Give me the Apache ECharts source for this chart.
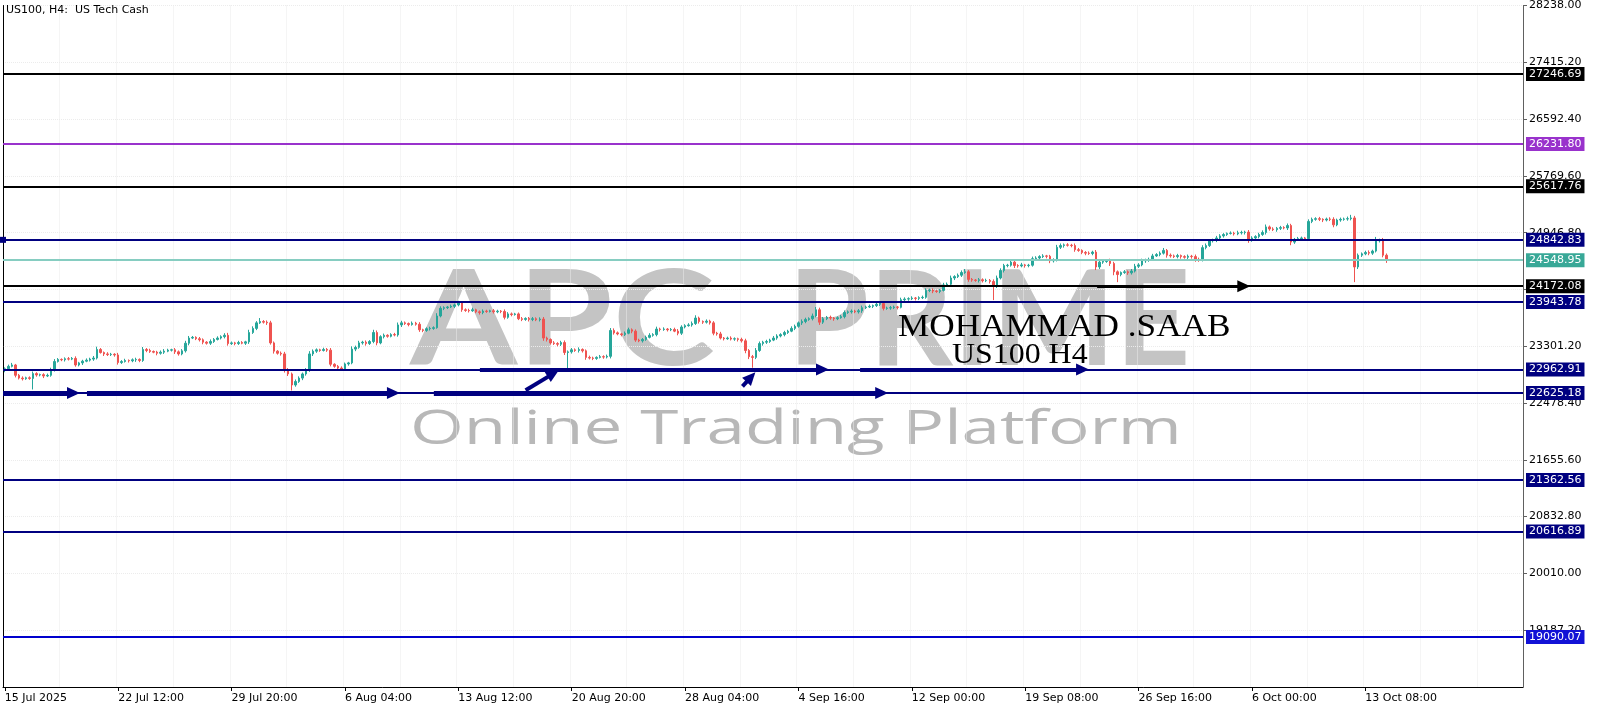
<!DOCTYPE html>
<html><head><meta charset="utf-8">
<script src="https://cdn.jsdelivr.net/npm/echarts@6/dist/echarts.min.js"></script>
<style>html,body{margin:0;padding:0;background:#fff}#c{width:1600px;height:711px}</style>
</head><body><div id="c"></div>
<script>
// ---------- DATA ----------
const tickLabels = ['15 Jul 2025','22 Jul 12:00','29 Jul 20:00','6 Aug 04:00','13 Aug 12:00','20 Aug 20:00','28 Aug 04:00','4 Sep 16:00','12 Sep 00:00','19 Sep 08:00','26 Sep 16:00','6 Oct 00:00','13 Oct 08:00'];
const barsPerLabel = 32;
const slotCount = 429;
const priceTicks = [28238.00,27415.20,26592.40,25769.60,24946.80,24124.00,23301.20,22478.40,21655.60,20832.80,20010.00,19187.20];
const priceMin = 18364.4, priceMax = 28238.0;
const firstOpen = 22950;
const closes = [
22975,23010,23030,22880,22840,22830,22845,22835,22905,22885,
22890,22870,22880,22960,23080,23110,23105,23120,23115,23125,
23030,23060,23085,23100,23115,23130,23255,23210,23190,23180,
23185,23175,23065,23080,23095,23090,23105,23110,23095,23255,
23240,23225,23215,23200,23215,23230,23245,23250,23220,23190,
23235,23345,23420,23430,23410,23395,23360,23345,23370,23400,
23420,23440,23460,23340,23350,23340,23355,23345,23365,23500,
23560,23640,23660,23650,23640,23350,23230,23200,23190,22960,
22900,22740,22790,22840,22900,22950,23190,23230,23250,23240,
23255,23245,23040,23010,22985,22970,23045,23060,23260,23285,
23350,23360,23340,23370,23500,23350,23440,23460,23445,23470,
23465,23610,23640,23630,23615,23635,23620,23540,23530,23555,
23560,23570,23740,23850,23860,23870,23880,23900,23930,23830,
23820,23815,23830,23800,23790,23810,23805,23815,23800,23810,
23805,23720,23770,23760,23770,23700,23690,23705,23690,23700,
23685,23695,23420,23400,23350,23340,23330,23355,23210,23220,
23250,23240,23255,23235,23140,23130,23125,23140,23150,23145,
23155,23530,23495,23480,23470,23490,23540,23520,23390,23380,
23400,23430,23460,23470,23550,23545,23550,23540,23545,23520,
23490,23580,23600,23610,23630,23710,23660,23650,23665,23640,
23490,23480,23420,23410,23420,23405,23410,23400,23380,23240,
23150,23140,23240,23340,23360,23370,23390,23420,23450,23470,
23500,23520,23560,23590,23640,23660,23690,23700,23740,23830,
23650,23700,23720,23710,23700,23715,23730,23790,23800,23810,
23800,23815,23860,23870,23880,23890,23910,23920,23850,23855,
23860,23870,23865,23975,23985,23990,24000,23995,24005,24010,
24110,24115,24100,24095,24110,24190,24200,24290,24310,24330,
24370,24380,24270,24260,24255,24265,24250,24255,24240,24170,
24290,24400,24470,24475,24520,24470,24465,24480,24470,24475,
24570,24580,24600,24610,24605,24540,24550,24735,24760,24770,
24765,24760,24700,24690,24660,24650,24645,24665,24450,24520,
24530,24540,24500,24380,24340,24370,24380,24365,24390,24460,
24480,24540,24550,24560,24610,24630,24650,24690,24620,24610,
24600,24615,24600,24590,24605,24600,24560,24550,24730,24760,
24830,24840,24870,24900,24920,24935,24940,24930,24945,24950,
24955,24840,24870,24890,24920,24950,25030,25000,24990,25010,
25020,25015,25050,24810,24850,24860,24870,24860,25110,25140,
25150,25140,25130,25145,25140,25060,25130,25140,25145,25150,
25160,24450,24620,24640,24660,24650,24680,24830,24840,24620,24549
];
const wickUp = [
20,25,30,15,20,25,15,20,30,20, 15,20,25,30,35,20,15,20,25,20,
30,15,20,25,20,30,40,20,15,25, 20,15,30,20,25,15,20,25,15,35,
20,25,15,20,25,30,20,15,25,20, 25,35,30,20,15,25,20,15,30,20,
25,20,30,35,20,15,25,20,15,40, 30,25,50,20,25,30,20,15,25,30,
25,20,30,25,20,35,40,25,20,15, 25,20,30,15,20,25,20,15,40,25,
30,20,25,20,40,30,20,25,15,20, 25,35,30,20,15,25,20,30,15,20,
25,20,40,30,20,15,25,20,30,25, 20,25,30,15,20,25,20,15,25,20,
15,30,25,20,15,20,25,15,20,25, 20,25,30,20,15,25,20,25,30,20,
25,20,30,15,20,25,20,15,25,20, 25,35,30,20,15,25,30,20,25,20,
20,25,30,20,35,20,25,15,20,25, 30,25,20,25,30,40,20,15,25,20,
25,20,30,15,20,25,20,15,25,30, 20,25,35,30,20,25,20,30,25,20,
25,20,30,25,20,30,25,20,35,40, 30,25,20,25,15,20,25,30,20,25,
20,25,30,20,25,15,20,30,25,20, 25,20,15,30,25,20,25,15,20,25,
30,20,25,15,20,30,25,35,20,25, 30,40,25,20,15,25,20,25,20,30,
35,30,25,20,40,25,20,30,15,20, 30,25,20,25,15,20,25,35,30,20,
25,20,30,25,15,20,25,20,30,25, 20,25,30,25,20,15,25,20,30,35,
25,30,20,25,30,20,25,35,20,25, 20,25,15,20,25,20,30,25,35,30,
25,20,30,25,20,15,25,20,30,25, 20,30,25,20,25,30,35,20,25,20,
25,20,30,25,20,25,20,15,30,25, 20,25,15,20,25,30,20,25,20,30,
45,30,25,20,25,30,20,55,20,30,25
];
const wickDn = [
25,20,15,30,20,25,15,20,160,25, 20,30,15,20,25,15,20,25,20,15,
25,20,30,15,20,25,20,15,30,20, 20,25,30,20,15,25,20,30,25,20,
25,20,15,30,20,25,15,20,30,25, 20,25,30,15,20,25,30,20,25,20,
15,20,25,30,20,25,20,15,25,30, 20,25,15,20,30,25,35,20,25,40,
30,80,25,20,30,25,20,30,25,20, 15,25,30,20,25,20,15,25,20,30,
20,25,30,20,25,35,20,25,20,15, 20,25,30,20,25,15,20,30,25,20,
25,20,15,20,25,20,15,25,20,30, 20,25,15,20,30,25,20,15,25,20,
25,30,20,25,15,20,25,20,30,25, 20,25,40,30,25,20,30,25,35,230,
25,20,30,25,35,20,25,20,15,25, 20,30,25,20,25,20,15,30,25,20,
25,20,15,20,25,30,20,25,20,15, 30,25,20,15,25,20,30,25,20,25,
30,25,20,25,15,20,25,30,25,40, 35,150,25,20,30,25,20,15,25,20,
25,20,15,25,20,30,25,20,25,20, 40,25,20,25,30,20,15,25,20,25,
20,25,30,20,15,25,20,25,30,20, 25,20,30,15,20,25,20,30,25,20,
20,25,30,20,25,15,20,25,30,20, 25,20,35,25,20,30,25,20,30,200,
25,20,30,25,20,35,25,20,30,25, 20,25,15,20,30,35,25,20,25,30,
20,25,30,20,25,30,20,25,45,30, 25,20,35,50,110,25,20,30,25,20,
25,20,30,25,20,15,25,20,35,25, 20,25,30,20,25,30,35,25,20,25,
20,25,30,20,25,20,15,25,20,25, 30,40,25,20,25,20,30,25,20,30,
25,20,30,45,25,20,30,25,20,25, 20,25,30,20,25,35,20,25,20,25,
25,220,30,25,20,30,25,20,25,30,40
];
const levels = [27246.69, 26231.80, 25617.76, 24842.83, 24548.95, 24172.08, 23943.78, 22962.91, 22625.18, 21362.56, 20616.89, 19090.07];
// arrows: [fromBar, fromPrice, toBar, toPrice]
const arrows = [
  [-0.5, 22625.18, 19.4, 22625.18],
  [23.2, 22625.18, 109.7, 22625.18],
  [121.1, 22625.18, 247.5, 22625.18],
  [134.1, 22962.91, 230.8, 22962.91],
  [241.4, 22962.91, 304.2, 22962.91],
  [147.0, 22663, 154.8, 22905],
  [208.2, 22721, 210.6, 22854],
  [308.3, 24172.08, 349.7, 24172.08]
];

// ---------- STYLES ----------
const FONT = 'DejaVu Sans';
const levelStyle = [
  {line:'#000000', bg:'#000000'},
  {line:'#9932cc', bg:'#9932cc'},
  {line:'#000000', bg:'#000000'},
  {line:'#000080', bg:'#000080', marker:true},
  {line:'#86cdc1', bg:'#38a897'},
  {line:'#000000', bg:'#000000'},
  {line:'#000080', bg:'#000080'},
  {line:'#000080', bg:'#000080'},
  {line:'#000080', bg:'#000080'},
  {line:'#000080', bg:'#000080'},
  {line:'#000080', bg:'#000080'},
  {line:'#0000cd', bg:'#1212d6'}
];
const arrowStyle = [
  {c:'#000080', w:5},{c:'#000080', w:5},{c:'#000080', w:5},
  {c:'#000080', w:4},{c:'#000080', w:4},
  {c:'#000080', w:4},{c:'#000080', w:4},
  {c:'#000000', w:3}
];

// ---------- BUILD ----------
const categories = Array.from({length: slotCount}, (_, i) => String(i));
const candles = closes.map((c, i) => {
  const o = i ? closes[i - 1] : firstOpen;
  return [o, c, Math.min(o, c) - wickDn[i], Math.max(o, c) + wickUp[i]];
});
const isLabelIdx = (i) => i % barsPerLabel === 0 && i / barsPerLabel < tickLabels.length;

const chart = echarts.init(document.getElementById('c'), null, {renderer: 'canvas'});
chart.setOption({
  animation: false,
  backgroundColor: '#ffffff',
  grid: {left: 3, right: 77, top: 3, bottom: 24},
  xAxis: [{
    type: 'category', data: categories, boundaryGap: true,
    axisLine: {show: true, onZero: false, lineStyle: {color: '#000', width: 1}},
    axisTick: {show: true, alignWithLabel: true, length: 4, interval: (i) => isLabelIdx(i), lineStyle: {color: '#000'}},
    axisLabel: {interval: (i) => isLabelIdx(i), formatter: (v, i) => tickLabels[i / barsPerLabel] || '', align: 'left', margin: 6, color: '#000', fontFamily: FONT, fontSize: 11},
    splitLine: {show: true, interval: (i) => i % 16 === 0, lineStyle: {color: '#ececec', type: 'dotted', width: 1}}
  }, {
    type: 'value', min: -0.5, max: slotCount - 0.5, show: false, axisLine: {onZero: false}
  }],
  yAxis: [{
    type: 'value', position: 'right', min: priceMin, max: priceMax,
    axisLine: {show: true, onZero: false, lineStyle: {color: '#606060', width: 1}},
    axisTick: {show: true, length: 4, customValues: priceTicks, lineStyle: {color: '#606060'}},
    axisLabel: {customValues: priceTicks, formatter: (v) => Number(v).toFixed(2), margin: 6, color: '#000', fontFamily: FONT, fontSize: 11},
    splitLine: {show: true, lineStyle: {color: '#ececec', type: 'dotted', width: 1}}
  }, {
    type: 'value', position: 'left', min: priceMin, max: priceMax,
    axisLine: {show: true, onZero: false, lineStyle: {color: '#000', width: 1}},
    axisTick: {show: false}, axisLabel: {show: false}, splitLine: {show: false}
  }],
  series: [{
    type: 'candlestick', data: candles, barWidth: 2, z: 3,
    itemStyle: {color: '#26a69a', color0: '#ef5350', borderColor: '#26a69a', borderColor0: '#ef5350', borderWidth: 1},
    markLine: {
      silent: true, animation: false, symbol: 'none',
      data: levels.map((v, k) => ({
        yAxis: v,
        symbol: levelStyle[k].marker ? ['rect', 'rect'] : 'none',
        symbolSize: 6,
        lineStyle: {color: levelStyle[k].line, width: 2, type: 'solid'},
        label: {show: true, position: 'end', formatter: v.toFixed(2), color: '#fff', backgroundColor: levelStyle[k].bg,
                padding: [2, 3, 1, 3], fontFamily: FONT, fontSize: 11, distance: 3}
      }))
    }
  }, {
    type: 'line', xAxisIndex: 1, yAxisIndex: 0, data: [], z: 4,
    markLine: {
      silent: true, animation: false, symbol: ['none', 'triangle'], symbolSize: [12, 13],
      label: {show: false},
      data: arrows.map((a, k) => [
        {coord: [a[0], a[1]], lineStyle: {color: arrowStyle[k].c, width: arrowStyle[k].w, type: 'solid'}, itemStyle: {color: arrowStyle[k].c}},
        {coord: [a[2], a[3]]}
      ])
    }
  }],
  graphic: [
    {type: 'text', x: 6, y: 5, z: 50, style: {text: 'US100, H4:  US Tech Cash', font: '11px "DejaVu Sans"', fill: '#000'}},
    {type: 'text', x: 410, y: 322, z: -1, scaleX: 1.17, style: {text: 'APC', font: 'bold 132px Lato', fill: '#c4c4c4', verticalAlign: 'middle'}},
    {type: 'text', x: 788, y: 322, z: -1, scaleX: 0.99, style: {text: 'PRIME', font: 'bold 132px Lato', fill: '#c4c4c4', verticalAlign: 'middle'}},
    {type: 'text', x: 410, y: 430, z: -1, scaleX: 1.44, style: {text: 'Online Trading Platform', font: '48px "Open Sans"', fill: '#b8b8b8', verticalAlign: 'middle'}},
    {type: 'text', x: 898, y: 328, z: 100, scaleX: 1.1, style: {text: 'MOHAMMAD .SAAB', font: '32px "Liberation Serif"', fill: '#000', verticalAlign: 'middle'}},
    {type: 'text', x: 952, y: 355, z: 100, scaleX: 1.1, style: {text: 'US100 H4', font: '29px "Liberation Serif"', fill: '#000', verticalAlign: 'middle'}}
  ]
});
</script>
</body></html>
